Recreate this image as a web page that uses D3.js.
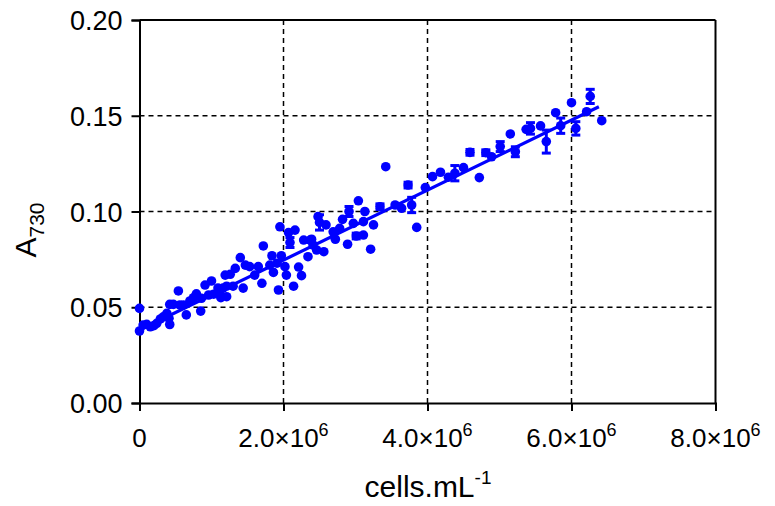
<!DOCTYPE html>
<html><head><meta charset="utf-8">
<script src="https://cdn.jsdelivr.net/npm/d3@7"></script>
<style>body{margin:0;background:#fff} text{font-family:Arial,"Liberation Sans",sans-serif;fill:#000}</style>
</head><body><svg id="c" width="775" height="506"></svg>
<script>
// cells per mL (millions)
const cells = [0,0,0.05,0.10,0.15,0.20,0.24,0.29,0.33,0.38,0.42,0.41,0.42,0.47,0.54,0.56,0.61,0.65,0.70,0.75,0.79,0.85,0.86,0.91,0.96,1.00,1.03,1.09,1.13,1.19,1.21,1.21,1.12,1.16,1.26,1.30,1.33,1.40,1.44,1.47,1.53,1.60,1.65,1.70,1.72,1.81,1.84,1.86,1.91,1.93,1.95,1.97,2.02,2.04,2.07,2.09,2.14,2.16,2.21,2.25,2.28,2.34,2.37,2.39,2.41,2.46,2.48,2.50,2.56,2.59,2.69,2.72,2.78,2.82,2.89,2.91,2.97,3.01,3.04,3.11,3.11,3.13,3.21,3.25,3.34,3.42,3.55,3.64,3.73,3.78,3.85,3.97,4.07,4.18,4.29,4.38,4.50,4.59,4.72,4.81,4.89,5.01,5.15,5.22,5.37,5.43,5.57,5.65,5.78,5.85,6.00,6.06,6.21,6.26,6.42];
const a730 = [0.0494,0.0376,0.0407,0.0411,0.0398,0.0404,0.0416,0.0439,0.0450,0.0468,0.0410,0.0442,0.0515,0.0515,0.0585,0.0512,0.0512,0.0460,0.0533,0.0550,0.0570,0.0480,0.0547,0.0616,0.0564,0.0637,0.0568,0.0600,0.0550,0.0668,0.0555,0.0610,0.0564,0.0600,0.0672,0.0610,0.0703,0.0759,0.0600,0.0720,0.0712,0.0668,0.0712,0.0625,0.0820,0.0720,0.0769,0.0682,0.0730,0.0590,0.0920,0.0769,0.0712,0.0668,0.0890,0.0838,0.0610,0.0903,0.0710,0.0665,0.0851,0.0764,0.0851,0.0855,0.0825,0.0799,0.0973,0.0943,0.0790,0.0930,0.0894,0.0855,0.0912,0.0959,0.0829,0.1000,0.0938,0.0872,0.1056,0.0947,0.0877,0.1000,0.0803,0.0930,0.1025,0.1234,0.1034,0.1017,0.1138,0.1034,0.0917,0.1125,0.1182,0.1205,0.1179,0.1200,0.1229,0.1309,0.1177,0.1307,0.1286,0.1339,0.1405,0.1312,0.1429,0.1434,0.1447,0.1365,0.1516,0.1448,0.1568,0.1434,0.1521,0.1601,0.1474];
const errs = [0,0,0,0,0,0,0,0,0,0,0,0,0,0,0,0,0,0,0,0,0,0,0,0,0,0,0,0,0,0,0,0,0,0,0,0,0,0,0,0,0,0,0,0,0,0,0,0,0,0,0,0,0,0,0,0.0026,0,0,0,0,0,0,0,0,0,0,0,0.004,0,0,0,0,0,0,0,0.0026,0,0.0015,0,0,0,0,0,0,0.0015,0,0,0,0.0015,0.004,0,0,0,0,0,0.004,0,0.0015,0,0.0015,0,0.0026,0,0.0026,0,0.003,0,0.006,0,0.004,0,0.0035,0,0.0037,0];
const fitX = [0, 6.38];
const fitY = [0.0381, 0.1547];
const xTicks = [0,2,4,6,8];
const yTicks = [0,0.05,0.10,0.15,0.20];

const svg = d3.select("#c");
const L=139.5, R=715.5, T=20, B=403;
const x = d3.scaleLinear().domain([0,8]).range([L,R]);
const y = d3.scaleLinear().domain([0,0.2]).range([B,T]);
const blue = "#0000ff";

// gridlines
const g = svg.append("g");
g.selectAll(".vg").data(xTicks.filter(d=>d>0&&d<8)).join("line")
  .attr("x1",d=>x(d)).attr("x2",d=>x(d)).attr("y1",T).attr("y2",B)
  .attr("stroke","#000").attr("stroke-width",1.5).attr("stroke-dasharray","5,4");
g.selectAll(".hg").data(yTicks.filter(d=>d>0&&d<0.2)).join("line")
  .attr("x1",L).attr("x2",R).attr("y1",d=>y(d)).attr("y2",d=>y(d))
  .attr("stroke","#000").attr("stroke-width",1.5).attr("stroke-dasharray","5,4");
// frame top/right
svg.append("line").attr("x1",L).attr("x2",R).attr("y1",T).attr("y2",T).attr("stroke","#000").attr("stroke-width",2);
svg.append("line").attr("x1",R).attr("x2",R).attr("y1",T).attr("y2",B).attr("stroke","#000").attr("stroke-width",2);

// axes
const xa = svg.append("g").attr("transform",`translate(0,${B})`)
  .call(d3.axisBottom(x).tickValues(xTicks).tickSize(8).tickFormat(""));
const ya = svg.append("g").attr("transform",`translate(${L},0)`)
  .call(d3.axisLeft(y).tickValues(yTicks).tickSize(8).tickFormat(d=>d.toFixed(2)));
[xa,ya].forEach(a=>{a.select(".domain").attr("stroke","#000").attr("stroke-width",2);
  a.selectAll(".tick line").attr("stroke","#000").attr("stroke-width",2);});
ya.selectAll(".tick text").attr("font-size",27).attr("x",-17).attr("dy","0.36em")
  .style("font-family","Arial, 'Liberation Sans', sans-serif");

// x tick labels with superscripts
const xl = svg.append("g").selectAll("text").data(xTicks).join("text")
  .attr("x",d=>x(d)).attr("y",447).attr("text-anchor","middle").attr("font-size",26);
xl.each(function(d){
  const t=d3.select(this);
  if(d===0){t.text("0");return;}
  t.append("tspan").text(d.toFixed(1)+"×10");
  t.append("tspan").attr("dy",-11).attr("font-size",18).text("6");
});

// error bars
const pts = cells.map((c,i)=>({x:c,y:a730[i],e:errs[i]}));
const eb = svg.append("g").attr("stroke",blue).attr("stroke-width",3);
pts.filter(p=>p.e>0).forEach(p=>{
  eb.append("line").attr("x1",x(p.x)).attr("x2",x(p.x)).attr("y1",y(p.y-p.e)).attr("y2",y(p.y+p.e));
  eb.append("line").attr("x1",x(p.x)-4.5).attr("x2",x(p.x)+4.5).attr("y1",y(p.y-p.e)).attr("y2",y(p.y-p.e));
  eb.append("line").attr("x1",x(p.x)-4.5).attr("x2",x(p.x)+4.5).attr("y1",y(p.y+p.e)).attr("y2",y(p.y+p.e));
});

// points
svg.append("g").selectAll("circle").data(pts).join("circle")
  .attr("cx",d=>x(d.x)).attr("cy",d=>y(d.y)).attr("r",4.8).attr("fill",blue);

// fit line
svg.append("path").datum(fitX.map((v,i)=>[v,fitY[i]]))
  .attr("d",d3.line().x(d=>x(d[0])).y(d=>y(d[1])))
  .attr("stroke",blue).attr("stroke-width",3.2).attr("fill","none");

// axis titles
const xt = svg.append("text").attr("x",428).attr("y",497).attr("text-anchor","middle").attr("font-size",30);
xt.append("tspan").text("cells.mL");
xt.append("tspan").attr("dy",-13).attr("font-size",19).text("-1");

const yt = svg.append("text").attr("transform","translate(36,230) rotate(-90)").attr("text-anchor","middle").attr("font-size",30);
yt.append("tspan").text("A");
yt.append("tspan").attr("dy",8).attr("font-size",21).text("730");
</script></body></html>
